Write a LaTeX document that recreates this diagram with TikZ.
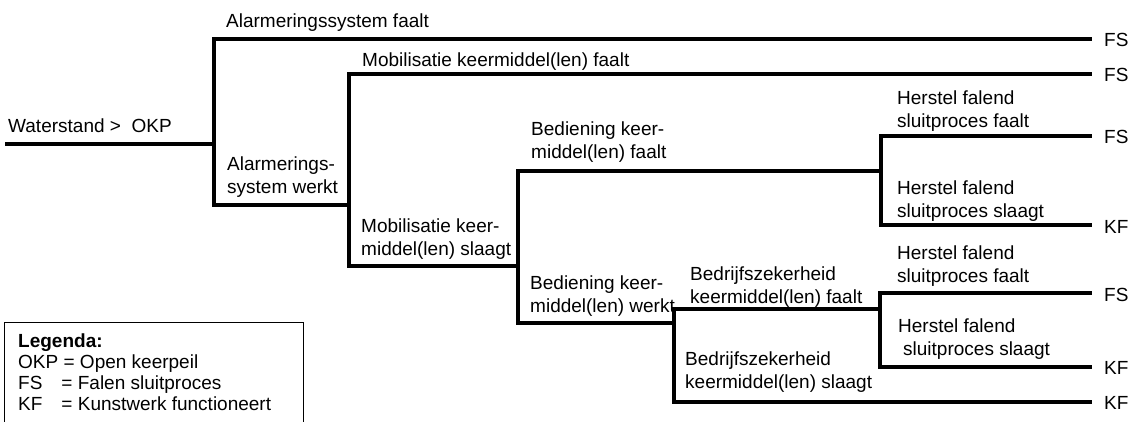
\documentclass[tikz,border=0pt]{standalone}
\usepackage{fontspec}
\setmainfont{Liberation Sans}
\begin{document}
\begin{tikzpicture}[x=1pt,y=-1pt,
  branch/.style={line width=3.3pt,line join=miter,line cap=rect},
  lbl/.style={anchor=base west,inner sep=0pt,align=left,font={\fontsize{19}{22.5}\selectfont}},
  endlbl/.style={anchor=west,inner sep=0pt,font={\fontsize{19}{22}\selectfont}},
  legendbox/.style={draw,line width=0.8pt}]
\useasboundingbox (0,0) rectangle (1131,421);
% coordinates
\coordinate (s0) at (7,144);
\coordinate (a1) at (214,39);  \coordinate (a2) at (214,205);
\coordinate (b1) at (349,74);  \coordinate (b2) at (349,266);
\coordinate (c1) at (518,171); \coordinate (c2) at (518,323);
\coordinate (d1) at (881,136); \coordinate (d2) at (881,225);
\coordinate (e1) at (674,309); \coordinate (e2) at (674,402);
\coordinate (f1) at (880,293); \coordinate (f2) at (880,367);
\coordinate (ja) at (214,144);
\coordinate (jb) at (349,205);
\coordinate (jc) at (518,266);
\coordinate (jd) at (881,171);
\coordinate (je) at (674,323);
\coordinate (jf) at (880,309);
\coordinate (t1) at (1090,39);
\coordinate (t2) at (1090,74);
\coordinate (t3) at (1090,136);
\coordinate (t4) at (1090,225);
\coordinate (t5) at (1090,293);
\coordinate (t6) at (1090,367);
\coordinate (t7) at (1090,402);
% end labels
\node[endlbl] (o1) at (1104,40) {FS};
\node[endlbl] (o2) at (1104,75) {FS};
\node[endlbl] (o3) at (1104,137) {FS};
\node[endlbl] (o4) at (1104,227) {KF};
\node[endlbl] (o5) at (1104,295) {FS};
\node[endlbl] (o6) at (1104,368) {KF};
\node[endlbl] (o7) at (1104,403) {KF};
% lines
\draw[branch] (s0) -- (ja);
\draw[branch] (t1) -- (a1) -- (a2) -- (jb);
\draw[branch] (t2) -- (b1) -- (b2) -- (jc);
\draw[branch] (jd) -- (c1) -- (c2) -- (je);
\draw[branch] (t3) -- (d1) -- (d2) -- (t4);
\draw[branch] (jf) -- (e1) -- (e2) -- (t7);
\draw[branch] (t5) -- (f1) -- (f2) -- (t6);
% texts (multi-line nodes: base = last line)
\node[lbl] (water) at (8,132) {Waterstand >\ \ OKP};
\node[lbl] (alf) at (226,27) {Alarmeringssystem faalt};
\node[lbl] (alw) at (227,193) {Alarmerings-\\system werkt};
\node[lbl] (mof) at (362,66) {Mobilisatie keermiddel(len) faalt};
\node[lbl] (mos) at (361,255) {Mobilisatie keer-\\middel(len) slaagt};
\node[lbl] (bef) at (531,158) {Bediening keer-\\middel(len) faalt};
\node[lbl] (bew) at (530,312) {Bediening keer-\\middel(len) werkt};
\node[lbl] (h1) at (897,127) {Herstel falend\\sluitproces faalt};
\node[lbl] (h2) at (897,217) {Herstel falend\\sluitproces slaagt};
\node[lbl] (h3) at (897,282) {Herstel falend\\sluitproces faalt};
\node[lbl] (h4) at (898,355) {Herstel falend\\\hspace*{5pt}sluitproces slaagt};
\node[lbl] (bz1) at (690,303) {Bedrijfszekerheid\\keermiddel(len) faalt};
\node[lbl] (bz2) at (685,388) {Bedrijfszekerheid\\keermiddel(len) slaagt};
% legend
\draw[legendbox] (4,322) rectangle (303,430);
\node[lbl,font={\fontsize{19}{21}\selectfont}] (leg) at (18,410) {\textbf{Legenda:}\\
OKP = Open keerpeil\\
FS\hspace*{19pt}= Falen sluitproces\\
KF\hspace*{19pt}= Kunstwerk functioneert};
\end{tikzpicture}
\end{document}
